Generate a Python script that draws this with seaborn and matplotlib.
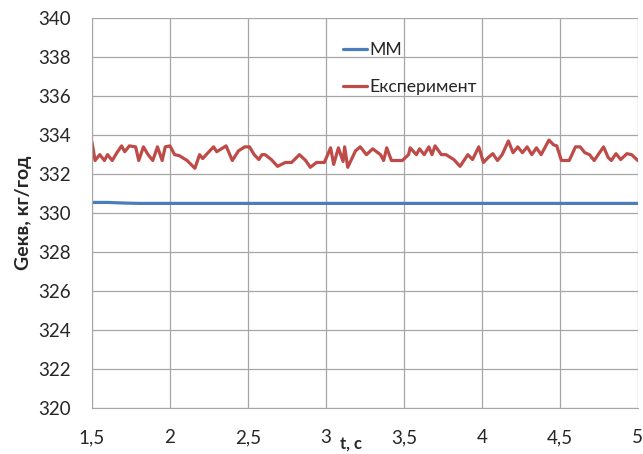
import numpy as np
import pandas as pd
import seaborn as sns
import matplotlib.pyplot as plt

# Данные
t_mm = [1.5, 1.6, 1.7, 1.8, 2.0, 2.5, 3.0, 3.5, 4.0, 4.5, 5.0]
g_mm = [330.55, 330.55, 330.52, 330.5, 330.5, 330.5, 330.5, 330.5, 330.5, 330.5, 330.5]

t_exp = [1.50, 1.52, 1.55, 1.58, 1.60, 1.63, 1.66, 1.69, 1.71, 1.74, 1.78, 1.80,
         1.83, 1.86, 1.89, 1.92, 1.95, 1.97, 2.00, 2.03, 2.06, 2.11, 2.16, 2.19,
         2.21, 2.25, 2.28, 2.30, 2.36, 2.40, 2.44, 2.48, 2.51, 2.54, 2.57, 2.59,
         2.61, 2.65, 2.69, 2.74, 2.78, 2.83, 2.87, 2.90, 2.94, 2.99, 3.03, 3.05,
         3.08, 3.11, 3.12, 3.14, 3.19, 3.22, 3.26, 3.30, 3.35, 3.37, 3.39, 3.42,
         3.49, 3.53, 3.54, 3.58, 3.60, 3.63, 3.66, 3.68, 3.70, 3.74, 3.77, 3.82,
         3.86, 3.91, 3.94, 3.98, 4.01, 4.04, 4.07, 4.10, 4.13, 4.17, 4.20, 4.23,
         4.26, 4.29, 4.32, 4.35, 4.38, 4.43, 4.46, 4.48, 4.51, 4.56, 4.60, 4.63,
         4.66, 4.69, 4.72, 4.78, 4.81, 4.83, 4.86, 4.89, 4.93, 4.96, 5.00]
g_exp = [333.65, 332.7, 333.0, 332.7, 333.0, 332.7, 333.1, 333.45, 333.15, 333.45, 333.4, 332.7,
         333.4, 333.0, 332.7, 333.4, 332.7, 333.4, 333.45, 333.0, 332.95, 332.7, 332.3, 333.0,
         332.8, 333.15, 333.4, 333.15, 333.45, 332.7, 333.2, 333.4, 333.4, 333.0, 332.75, 333.0,
         333.0, 332.75, 332.4, 332.6, 332.6, 333.0, 332.7, 332.35, 332.6, 332.6, 333.35, 332.5,
         333.35, 332.65, 333.4, 332.35, 333.2, 333.4, 333.0, 333.3, 333.0, 332.7, 333.35, 332.7,
         332.7, 333.0, 333.35, 333.0, 333.3, 333.0, 333.4, 333.0, 333.45, 333.0, 333.0, 332.75,
         332.4, 333.0, 332.75, 333.4, 332.6, 332.85, 333.05, 332.7, 333.0, 333.7, 333.1, 333.4,
         333.1, 333.4, 333.0, 333.35, 333.0, 333.75, 333.5, 333.45, 332.7, 332.7, 333.4, 333.4,
         333.1, 333.0, 332.7, 333.4, 332.85, 332.7, 333.05, 332.75, 333.05, 333.0, 332.7]

x_ticks = [1.5, 2, 2.5, 3, 3.5, 4, 4.5, 5]
x_tick_labels = ['1,5', '2', '2,5', '3', '3,5', '4', '4,5', '5']
y_ticks = list(range(320, 341, 2))

df = pd.concat([
    pd.DataFrame({'t': t_mm, 'G': g_mm, 'Серія': 'ММ'}),
    pd.DataFrame({'t': t_exp, 'G': g_exp, 'Серія': 'Експеримент'}),
])

sns.set_style('white')
plt.rcParams['font.family'] = ['Lato', 'DejaVu Sans']

fig = plt.figure(figsize=(6.43, 4.54), dpi=100)
ax = fig.add_axes([0.143, 0.101, 0.849, 0.859])

sns.lineplot(data=df, x='t', y='G', hue='Серія', sort=False,
             palette={'ММ': '#4a7ebb', 'Експеримент': '#be4b48'},
             linewidth=2.3, ax=ax)

ax.set_xlim(1.5, 5)
ax.set_ylim(320, 340)
ax.set_xticks(x_ticks)
ax.set_xticklabels(x_tick_labels)
ax.set_yticks(y_ticks)
ax.grid(True, color='#a6a6a6', linewidth=0.9)
ax.set_axisbelow(True)
for s in ['top', 'right']:
    ax.spines[s].set_visible(False)
for s in ['left', 'bottom']:
    ax.spines[s].set_color('#a6a6a6')
ax.tick_params(axis='both', colors='#a6a6a6', labelcolor='#262626',
               labelsize=13.5, length=5, direction='out')
ax.tick_params(axis='x', pad=10)
ax.tick_params(axis='y', pad=10)

ax.set_ylabel('Gекв, кг/год', fontsize=14, fontweight='bold', color='#262626')
ax.yaxis.set_label_coords(-0.11, 0.5)
ax.set_xlabel('t, c', fontsize=12, fontweight='bold', color='#262626')
ax.xaxis.set_label_coords(0.475, -0.07)

leg = ax.legend(loc='upper left', bbox_to_anchor=(0.43, 0.98), frameon=False,
                fontsize=12.7, labelspacing=1.2, handlelength=1.4, handletextpad=0.1)
for text in leg.get_texts():
    text.set_color('#262626')

fig.savefig('out.png', dpi=100)
